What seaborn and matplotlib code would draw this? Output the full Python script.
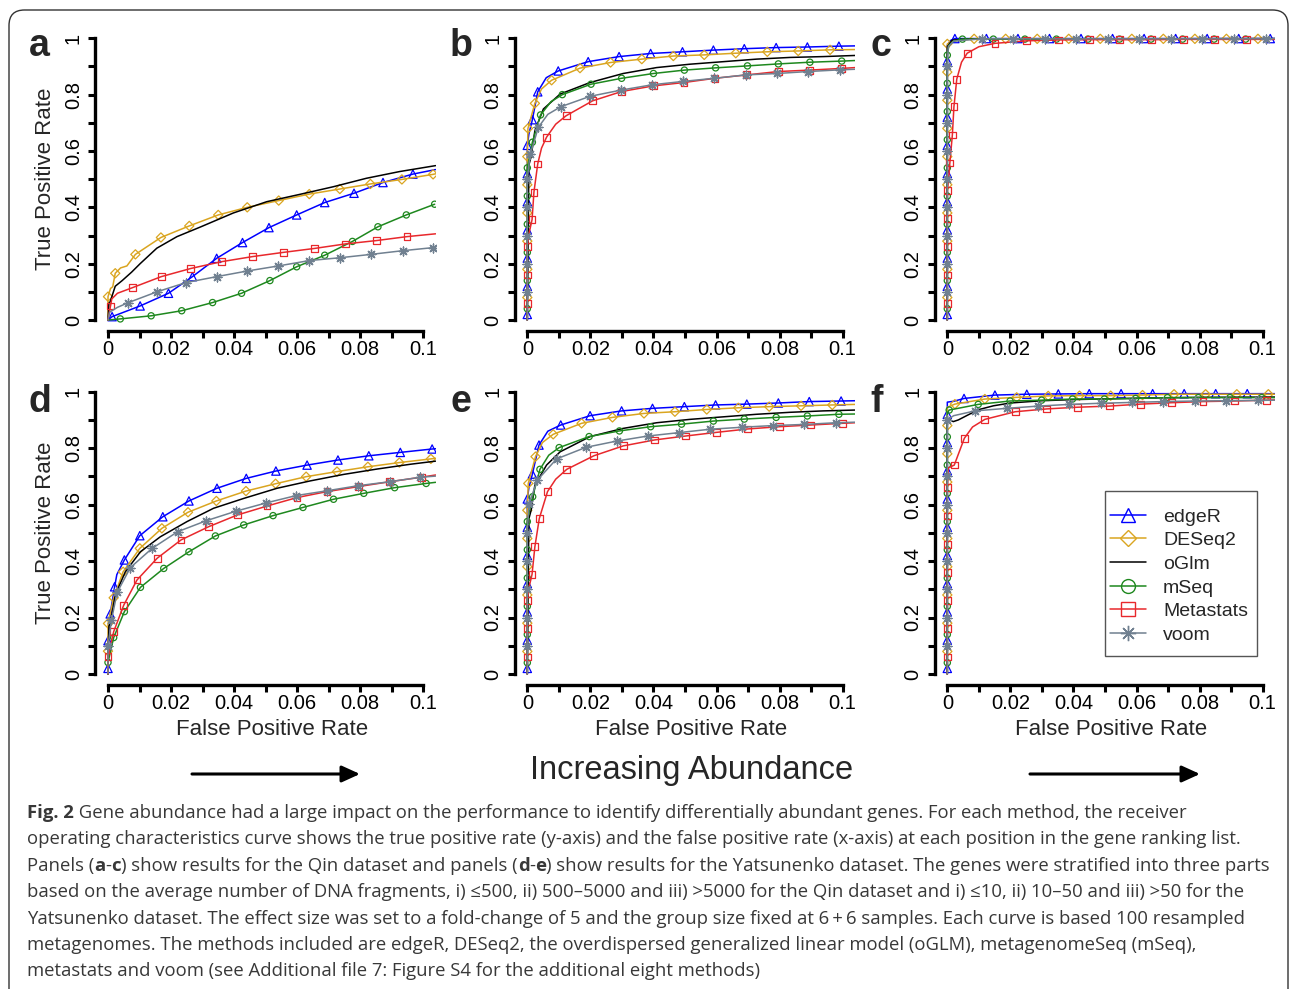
import matplotlib
matplotlib.use("Agg")
import matplotlib.pyplot as plt
import seaborn as sns
import pandas as pd
from matplotlib.lines import Line2D
from matplotlib.patches import FancyBboxPatch, FancyArrowPatch, Rectangle

# ---------------- data (FPR, TPR) ----------------
METHODS = ["edgeR", "DESeq2", "oGlm", "mSeq", "Metastats", "voom"]
XTICKS = [0, 0.02, 0.04, 0.06, 0.08, 0.1]
XTICKLABELS = ["0", "0.02", "0.04", "0.06", "0.08", "0.1"]
YTICKS = [0, 0.2, 0.4, 0.6, 0.8, 1.0]
YTICKLABELS = ["0", "0.2", "0.4", "0.6", "0.8", "1"]

# panel a
a_edger_lead = [(0, 0), (0.104, 0.534)]
a_edger_mk = [(0.0013, 0.012), (0.0102, 0.05), (0.0192, 0.095), (0.0268, 0.154), (0.0345, 0.219), (0.0427, 0.275),
              (0.0511, 0.328), (0.0599, 0.373), (0.0688, 0.417), (0.0781, 0.45), (0.0873, 0.488), (0.0968, 0.518)]
a_deseq_lead = [(0, 0), (0.0008, 0.112), (0.0015, 0.118), (0.004, 0.185), (0.006, 0.192), (0.104, 0.519)]
a_deseq_mk = [(0, 0.083), (0.0023, 0.166), (0.0087, 0.233), (0.0168, 0.293), (0.0258, 0.334), (0.035, 0.373),
              (0.0442, 0.4), (0.0542, 0.424), (0.0639, 0.447), (0.0736, 0.465), (0.0833, 0.483), (0.0933, 0.499),
              (0.1032, 0.517)]
a_oglm = [(0, 0), (0.0003, 0.06), (0.0007, 0.065), (0.0023, 0.12), (0.0045, 0.14), (0.0075, 0.17), (0.0102, 0.2),
          (0.0155, 0.255), (0.0219, 0.296), (0.0293, 0.33), (0.0398, 0.38), (0.0504, 0.42), (0.0609, 0.446),
          (0.0715, 0.473), (0.082, 0.503), (0.0926, 0.527), (0.104, 0.548)]
a_mseq_lead = [(0, 0)]
a_mseq_mk = [(0.0039, 0.004), (0.0137, 0.015), (0.0234, 0.033), (0.0332, 0.062), (0.0424, 0.095), (0.0514, 0.14),
             (0.0599, 0.189), (0.0688, 0.23), (0.0776, 0.279), (0.0857, 0.331), (0.0947, 0.373), (0.1037, 0.411)]
a_meta_lead = [(0, 0), (0.0012, 0.075), (0.003, 0.095), (0.104, 0.306)]
a_meta_mk = [(0.0008, 0.05), (0.0078, 0.115), (0.0169, 0.154), (0.0263, 0.183), (0.036, 0.207), (0.0458, 0.225),
             (0.0556, 0.24), (0.0655, 0.254), (0.0753, 0.27), (0.0852, 0.282), (0.0949, 0.296)]
a_voom_lead = [(0, 0), (0.0005, 0.028), (0.003, 0.045), (0.104, 0.258)]
a_voom_mk = [(0.0065, 0.062), (0.0155, 0.1), (0.0248, 0.133), (0.0345, 0.154), (0.0442, 0.174), (0.0541, 0.192),
             (0.0639, 0.211), (0.0736, 0.221), (0.0835, 0.233), (0.0935, 0.246), (0.1032, 0.257)]

# panel b
b_edger_lead = [(0, 0), (0.0005, 0.66), (0.006, 0.86), (0.104, 0.973)]
b_edger_mk = [(0, 0.02), (0, 0.12), (0, 0.22), (0, 0.32), (0, 0.42), (0, 0.52), (0, 0.62), (0.0016, 0.711),
              (0.0033, 0.81), (0.0098, 0.884), (0.0193, 0.917), (0.0291, 0.935), (0.0391, 0.946), (0.0492, 0.952),
              (0.059, 0.958), (0.0688, 0.963), (0.0789, 0.967), (0.0888, 0.969), (0.0988, 0.972)]
b_deseq_lead = [(0, 0), (0.0045, 0.82), (0.104, 0.96)]
b_deseq_mk = [(0, 0.08), (0, 0.18), (0, 0.28), (0, 0.38), (0, 0.48), (0, 0.58), (0.0002, 0.68), (0.0024, 0.769),
              (0.0077, 0.851), (0.0167, 0.894), (0.0264, 0.914), (0.0363, 0.926), (0.0463, 0.937), (0.0561, 0.941),
              (0.0661, 0.947), (0.0761, 0.952), (0.0859, 0.955), (0.096, 0.959)]
b_oglm = [(0, 0), (0.0005, 0.55), (0.0012, 0.58), (0.0024, 0.672), (0.0051, 0.749), (0.0104, 0.802), (0.0199, 0.843),
          (0.0304, 0.875), (0.041, 0.896), (0.0516, 0.908), (0.0622, 0.917), (0.0727, 0.926), (0.0833, 0.932),
          (0.0939, 0.935), (0.104, 0.939)]
b_mseq_lead = [(0, 0), (0.0007, 0.58), (0.0075, 0.775), (0.104, 0.921)]
b_mseq_mk = [(0, 0.04), (0, 0.14), (0, 0.24), (0, 0.34), (0, 0.44), (0, 0.54), (0.0016, 0.631), (0.0042, 0.728),
             (0.0111, 0.8), (0.0202, 0.837), (0.0299, 0.858), (0.04, 0.875), (0.0498, 0.887), (0.0597, 0.895),
             (0.0698, 0.902), (0.0796, 0.909), (0.0896, 0.915), (0.0997, 0.919)]
b_meta_lead = [(0, 0), (0.0006, 0.31), (0.0045, 0.61), (0.009, 0.695), (0.104, 0.896)]
b_meta_mk = [(0, 0.06), (0, 0.16), (0, 0.26), (0.0015, 0.356), (0.0021, 0.454), (0.0033, 0.554), (0.0061, 0.649),
             (0.0123, 0.725), (0.0207, 0.778), (0.0299, 0.811), (0.04, 0.831), (0.0497, 0.843), (0.0595, 0.858),
             (0.0696, 0.87), (0.0796, 0.882), (0.0894, 0.887), (0.0997, 0.893)]
b_voom_lead = [(0, 0), (0.0006, 0.56), (0.0065, 0.73), (0.104, 0.89)]
b_voom_mk = [(0, 0.1), (0, 0.2), (0, 0.3), (0, 0.4), (0, 0.5), (0.001, 0.59), (0.0035, 0.684), (0.0106, 0.757),
             (0.0199, 0.794), (0.0297, 0.816), (0.0396, 0.835), (0.0495, 0.847), (0.0593, 0.858), (0.0693, 0.87),
             (0.0793, 0.875), (0.0891, 0.882), (0.0992, 0.888)]

# panel c
c_edger_lead = [(0, 0), (0, 0.975), (0.001, 0.992), (0.104, 0.999)]
c_edger_mk = [(0, 0.02), (0, 0.12), (0, 0.22), (0, 0.32), (0, 0.42), (0, 0.52), (0, 0.62), (0, 0.72), (0, 0.82),
              (0, 0.92), (0.0024, 0.999), (0.0124, 0.999), (0.0224, 0.999), (0.0324, 0.999), (0.0424, 0.999),
              (0.0524, 0.999), (0.0624, 0.999), (0.0724, 0.999), (0.0824, 0.999), (0.0924, 0.999), (0.1024, 0.999)]
c_deseq_lead = [(0, 0), (0.0015, 0.99), (0.104, 0.998)]
c_deseq_mk = [(0, 0.08), (0, 0.18), (0, 0.28), (0, 0.38), (0, 0.48), (0, 0.58), (0, 0.68), (0, 0.78), (0, 0.88),
              (0, 0.98), (0.0085, 0.998), (0.0185, 0.998), (0.0285, 0.998), (0.0385, 0.998), (0.0485, 0.998),
              (0.0585, 0.998), (0.0685, 0.998), (0.0785, 0.998), (0.0885, 0.998), (0.0985, 0.998)]
c_oglm = [(0, 0), (0, 0.97), (0.0015, 0.993), (0.005, 0.997), (0.104, 0.999)]
c_mseq_lead = [(0, 0), (0.0005, 0.975), (0.002, 0.99), (0.104, 0.998)]
c_mseq_mk = [(0, 0.04), (0, 0.14), (0, 0.24), (0, 0.34), (0, 0.44), (0, 0.54), (0, 0.64), (0, 0.74), (0, 0.84),
             (0, 0.94), (0.0048, 0.997), (0.0146, 0.997), (0.0246, 0.997), (0.0346, 0.997), (0.0446, 0.997),
             (0.0546, 0.997), (0.0646, 0.997), (0.0746, 0.997), (0.0846, 0.997), (0.0946, 0.997)]
c_meta_lead = [(0, 0), (0.0004, 0.5), (0.0045, 0.915), (0.01, 0.97), (0.104, 0.996)]
c_meta_mk = [(0, 0.06), (0, 0.16), (0, 0.26), (0, 0.36), (0, 0.46), (0.0008, 0.557), (0.0016, 0.657),
             (0.0021, 0.757), (0.003, 0.855), (0.0063, 0.947), (0.0151, 0.982), (0.0252, 0.991), (0.0352, 0.994),
             (0.045, 0.995), (0.0547, 0.995), (0.0647, 0.995), (0.0748, 0.996), (0.0848, 0.996), (0.0949, 0.996)]
c_voom_lead = [(0, 0), (0.0003, 0.97), (0.002, 0.99), (0.104, 0.999)]
c_voom_mk = [(0, 0.1), (0, 0.2), (0, 0.3), (0, 0.4), (0, 0.5), (0, 0.6), (0, 0.7), (0, 0.8), (0, 0.9),
             (0.011, 0.998), (0.0207, 0.998), (0.031, 0.998), (0.0408, 0.998), (0.051, 0.998), (0.0609, 0.998),
             (0.0709, 0.998), (0.0809, 0.998), (0.0909, 0.998), (0.1009, 0.998)]

# panel d
d_edger_lead = [(0, 0), (0.0028, 0.352), (0.104, 0.798)]
d_edger_mk = [(0, 0.02), (0, 0.118), (0.0007, 0.213), (0.0021, 0.309), (0.0052, 0.404), (0.0101, 0.49),
              (0.0174, 0.557), (0.0257, 0.613), (0.0346, 0.658), (0.0439, 0.693), (0.0533, 0.719), (0.0632, 0.74),
              (0.073, 0.758), (0.0828, 0.773), (0.0928, 0.785), (0.1029, 0.797)]
d_deseq_lead = [(0, 0), (0.104, 0.764)]
d_deseq_mk = [(0, 0.081), (0, 0.179), (0.0018, 0.27), (0.0048, 0.362), (0.0101, 0.445), (0.0171, 0.516),
              (0.0254, 0.573), (0.0344, 0.613), (0.0438, 0.648), (0.0532, 0.674), (0.0629, 0.699), (0.0727, 0.717),
              (0.0825, 0.734), (0.0925, 0.749), (0.1025, 0.762)]
d_oglm = [(0, 0), (0.0003, 0.17), (0.0007, 0.179), (0.0023, 0.28), (0.0055, 0.362), (0.0103, 0.433),
          (0.0166, 0.486), (0.0251, 0.54), (0.0335, 0.587), (0.0431, 0.622), (0.0537, 0.658), (0.0642, 0.684),
          (0.0748, 0.707), (0.0854, 0.726), (0.096, 0.743), (0.104, 0.754)]
d_mseq_lead = [(0, 0), (0.104, 0.679)]
d_mseq_mk = [(0, 0.041), (0.0018, 0.129), (0.0052, 0.221), (0.0103, 0.307), (0.0177, 0.374), (0.0257, 0.433),
             (0.0341, 0.489), (0.0431, 0.528), (0.0524, 0.561), (0.0619, 0.59), (0.0716, 0.619), (0.0812, 0.64),
             (0.091, 0.66), (0.101, 0.675)]
d_meta_lead = [(0, 0), (0.104, 0.705)]
d_meta_mk = [(0, 0.061), (0.0018, 0.15), (0.005, 0.244), (0.0092, 0.333), (0.0156, 0.41), (0.0232, 0.475),
             (0.032, 0.522), (0.041, 0.563), (0.0505, 0.595), (0.06, 0.625), (0.0695, 0.646), (0.0796, 0.664),
             (0.0894, 0.681), (0.0994, 0.697)]
d_voom_lead = [(0, 0), (0.104, 0.701)]
d_voom_mk = [(0, 0.1), (0.0011, 0.191), (0.0029, 0.289), (0.0071, 0.377), (0.014, 0.445), (0.0221, 0.504),
             (0.0312, 0.543), (0.0407, 0.577), (0.0502, 0.606), (0.0597, 0.632), (0.0695, 0.649), (0.0794, 0.667),
             (0.0894, 0.681), (0.0992, 0.697)]

# panel e
e_edger_lead = [(0, 0), (0.0005, 0.66), (0.0065, 0.86), (0.104, 0.968)]
e_edger_mk = [(0, 0.02), (0, 0.12), (0, 0.22), (0, 0.32), (0, 0.42), (0, 0.52), (0, 0.62), (0.0016, 0.708),
              (0.0037, 0.811), (0.0106, 0.882), (0.0199, 0.915), (0.0299, 0.932), (0.0397, 0.941), (0.0498, 0.947),
              (0.0597, 0.953), (0.0696, 0.956), (0.0796, 0.96), (0.0894, 0.965), (0.0995, 0.967)]
e_deseq_lead = [(0, 0), (0.0048, 0.82), (0.104, 0.955)]
e_deseq_mk = [(0, 0.08), (0, 0.18), (0, 0.28), (0, 0.38), (0, 0.48), (0, 0.58), (0.0003, 0.675), (0.0026, 0.77),
              (0.0082, 0.849), (0.0172, 0.888), (0.027, 0.909), (0.037, 0.923), (0.0468, 0.929), (0.0569, 0.937),
              (0.0669, 0.943), (0.0767, 0.947), (0.0868, 0.95), (0.0967, 0.953)]
e_oglm = [(0, 0), (0.0005, 0.55), (0.0012, 0.58), (0.0024, 0.669), (0.0061, 0.74), (0.0104, 0.787), (0.0199, 0.841),
          (0.0304, 0.87), (0.041, 0.89), (0.0516, 0.902), (0.0622, 0.911), (0.0727, 0.92), (0.0833, 0.927),
          (0.0939, 0.932), (0.104, 0.935)]
e_mseq_lead = [(0, 0), (0.0007, 0.58), (0.0068, 0.775), (0.104, 0.921)]
e_mseq_mk = [(0, 0.04), (0, 0.14), (0, 0.24), (0, 0.34), (0, 0.44), (0, 0.54), (0.0017, 0.628), (0.004, 0.725),
             (0.0101, 0.802), (0.0196, 0.841), (0.0292, 0.861), (0.0391, 0.876), (0.0489, 0.885), (0.059, 0.896),
             (0.0688, 0.903), (0.0789, 0.909), (0.0888, 0.914), (0.0988, 0.92)]
e_meta_lead = [(0, 0), (0.0006, 0.31), (0.009, 0.69), (0.104, 0.89)]
e_meta_mk = [(0, 0.06), (0, 0.16), (0, 0.26), (0.0015, 0.353), (0.0024, 0.451), (0.0038, 0.551), (0.0064, 0.646),
             (0.0125, 0.725), (0.0211, 0.773), (0.0304, 0.808), (0.0403, 0.829), (0.0502, 0.843), (0.06, 0.856),
             (0.0699, 0.868), (0.0799, 0.876), (0.0899, 0.882), (0.0999, 0.888)]
e_voom_lead = [(0, 0), (0.104, 0.892)]
e_voom_mk = [(0, 0.1), (0, 0.2), (0, 0.3), (0, 0.4), (0, 0.5), (0.0005, 0.602), (0.0032, 0.687), (0.0093, 0.762),
             (0.0186, 0.803), (0.0283, 0.825), (0.0382, 0.843), (0.0481, 0.855), (0.0579, 0.867), (0.068, 0.874),
             (0.0778, 0.88), (0.0878, 0.884), (0.0978, 0.89)]

# panel f
f_edger_lead = [(0, 0), (0, 0.963), (0.002, 0.966), (0.104, 0.993)]
f_edger_mk = [(0, 0.02), (0, 0.12), (0, 0.22), (0, 0.32), (0, 0.42), (0, 0.52), (0, 0.62), (0, 0.72), (0, 0.82),
              (0, 0.92), (0.0053, 0.976), (0.0151, 0.988), (0.0252, 0.991), (0.0352, 0.992), (0.045, 0.993),
              (0.0551, 0.993), (0.0651, 0.993), (0.0751, 0.993), (0.0851, 0.993), (0.0951, 0.993)]
f_deseq_lead = [(0, 0), (0, 0.945), (0.104, 0.991)]
f_deseq_mk = [(0, 0.08), (0, 0.18), (0, 0.28), (0, 0.38), (0, 0.48), (0, 0.58), (0, 0.68), (0, 0.78), (0, 0.88),
              (0.0024, 0.956), (0.0119, 0.974), (0.022, 0.98), (0.032, 0.985), (0.0419, 0.986), (0.0518, 0.986),
              (0.0619, 0.988), (0.0719, 0.991), (0.0819, 0.991), (0.0918, 0.991), (0.1018, 0.991)]
f_oglm = [(0, 0), (0, 0.905), (0.0019, 0.894), (0.0035, 0.9), (0.0061, 0.915), (0.0098, 0.936), (0.0146, 0.95),
          (0.02, 0.96), (0.03, 0.968), (0.04, 0.972), (0.06, 0.977), (0.08, 0.98), (0.104, 0.981)]
f_mseq_lead = [(0, 0), (0, 0.925), (0.104, 0.979)]
f_mseq_mk = [(0, 0.04), (0, 0.14), (0, 0.24), (0, 0.34), (0, 0.44), (0, 0.54), (0, 0.64), (0, 0.74), (0, 0.84),
             (0.0006, 0.935), (0.0098, 0.955), (0.0199, 0.967), (0.0299, 0.97), (0.0397, 0.974), (0.0498, 0.974),
             (0.0597, 0.976), (0.0698, 0.979), (0.0796, 0.979), (0.0896, 0.979), (0.0997, 0.979)]
f_meta_lead = [(0, 0), (0.0003, 0.73), (0.008, 0.875), (0.104, 0.971)]
f_meta_mk = [(0, 0.06), (0, 0.16), (0, 0.26), (0, 0.36), (0, 0.46), (0, 0.56), (0, 0.66), (0.0022, 0.74),
             (0.0054, 0.835), (0.0119, 0.902), (0.0215, 0.929), (0.0315, 0.939), (0.0413, 0.945), (0.0513, 0.949),
             (0.0613, 0.956), (0.0711, 0.961), (0.0811, 0.965), (0.0911, 0.967), (0.1011, 0.97)]
f_voom_lead = [(0, 0), (0.002, 0.915), (0.104, 0.97)]
f_voom_mk = [(0, 0.1), (0, 0.2), (0, 0.3), (0, 0.4), (0, 0.5), (0, 0.6), (0, 0.7), (0, 0.8), (0, 0.9),
             (0.0088, 0.932), (0.0188, 0.941), (0.0289, 0.949), (0.0386, 0.955), (0.0486, 0.959), (0.0586, 0.962),
             (0.0685, 0.965), (0.0786, 0.967), (0.0885, 0.968), (0.0986, 0.969)]

CAPTION = [
    [("Fig. 2", "bold"), (" Gene abundance had a large impact on the performance to identify differentially abundant genes. For each method, the receiver", "normal")],
    [("operating characteristics curve shows the true positive rate (y-axis) and the false positive rate (x-axis) at each position in the gene ranking list.", "normal")],
    [("Panels (", "normal"), ("a", "bold"), ("-", "normal"), ("c", "bold"), (") show results for the Qin dataset and panels (", "normal"),
     ("d", "bold"), ("-", "normal"), ("e", "bold"), (") show results for the Yatsunenko dataset. The genes were stratified into three parts", "normal")],
    [("based on the average number of DNA fragments, i) \u2264500, ii) 500\u20135000 and iii) >5000 for the Qin dataset and i) \u226410, ii) 10\u201350 and iii) >50 for the", "normal")],
    [("Yatsunenko dataset. The effect size was set to a fold-change of 5 and the group size fixed at 6\u2009+\u20096 samples. Each curve is based 100 resampled", "normal")],
    [("metagenomes. The methods included are edgeR, DESeq2, the overdispersed generalized linear model (oGLM), metagenomeSeq (mSeq),", "normal")],
    [("metastats and voom (see Additional file 7: Figure S4 for the additional eight methods)", "normal")],
]

# ---------------- assemble ----------------
def P(name):
    g = globals()
    out = {}
    for m, key in zip(METHODS, ["edger", "deseq", "oglm", "mseq", "meta", "voom"]):
        if key == "oglm":
            out[m] = (g[f"{name}_oglm"], [])
        else:
            out[m] = (g[f"{name}_{key}_lead"], g[f"{name}_{key}_mk"])
    return out

PANELS = {n: P(n) for n in "abcdef"}

COLORS = {"edgeR": "#0000FF", "DESeq2": "#DAA520", "oGlm": "#000000", "mSeq": "#1E881E",
          "Metastats": "#E8282C", "voom": "#708090"}
MARKERS = {"edgeR": "^", "DESeq2": "D", "oGlm": None, "mSeq": "o", "Metastats": "s", "voom": (8, 2, 0)}
MSIZE = {"edgeR": 36, "DESeq2": 22, "mSeq": 20, "Metastats": 24, "voom": 40}

sns.set_theme(style="white")
plt.rcParams["font.family"] = ["Liberation Sans", "DejaVu Sans"]

W, H = 1290, 989
fig = plt.figure(figsize=(W / 100, H / 100), dpi=100)
fig.patch.set_facecolor("white")

cols_px = [(95.4, 435.6), (514.7, 855.3), (934.7, 1275.3)]
rows_px = [(27.0, 331.3), (380.4, 685.3)]
letters = [["a", "b", "c"], ["d", "e", "f"]]
letter_px = [[(29, 56), (450, 56), (870, 56)], [(29, 412), (450, 412), (870, 412)]]

for r, (top, bot) in enumerate(rows_px):
    for c, (lft, rgt) in enumerate(cols_px):
        name = letters[r][c]
        ax = fig.add_axes([lft / W, 1 - bot / H, (rgt - lft) / W, (bot - top) / H])
        ax.set_facecolor("white")
        for z, m in enumerate(METHODS):
            lead, mk = PANELS[name][m]
            pts = list(lead) if m == "oGlm" else sorted(list(lead) + list(mk), key=lambda p: p[0] + p[1])
            dfl = pd.DataFrame(pts, columns=["fpr", "tpr"])
            sns.lineplot(data=dfl, x="fpr", y="tpr", sort=False, estimator=None, color=COLORS[m],
                         linewidth=1.1, ax=ax, zorder=3 + z)
            if mk:
                dfm = pd.DataFrame(mk, columns=["fpr", "tpr"])
                if m == "voom":
                    sns.scatterplot(data=dfm, x="fpr", y="tpr", marker=MARKERS[m], s=MSIZE[m],
                                    color=COLORS[m], linewidth=1.0, ax=ax, zorder=3 + z)
                else:
                    sns.scatterplot(data=dfm, x="fpr", y="tpr", marker=MARKERS[m], s=MSIZE[m],
                                    color=COLORS[m], facecolor="none", edgecolor=COLORS[m],
                                    linewidth=0.9, ax=ax, zorder=3 + z)
        ax.set_xlim(-0.004, 0.104)
        ax.set_ylim(-0.04, 1.04)
        ax.spines["top"].set_visible(False)
        ax.spines["right"].set_visible(False)
        ax.spines["left"].set_bounds(0, 1)
        ax.spines["bottom"].set_bounds(0, 0.1)
        for s in ("left", "bottom"):
            ax.spines[s].set_linewidth(2.4)
            ax.spines[s].set_color("black")
            ax.spines[s].set_capstyle("projecting")
        ax.set_xticks(XTICKS)
        ax.set_xticklabels(XTICKLABELS)
        ax.set_xticks([0.01, 0.03, 0.05, 0.07, 0.09], minor=True)
        ax.set_yticks(YTICKS)
        ax.set_yticklabels(YTICKLABELS)
        ax.set_yticks([0.1, 0.3, 0.5, 0.7, 0.9], minor=True)
        ax.tick_params(which="both", direction="out", length=5, width=2.2, color="black",
                       left=True, bottom=True, labelsize=14.5, labelcolor="black")
        ax.tick_params(axis="x", which="both", pad=1)
        ax.tick_params(axis="y", which="both", pad=4)
        for lab in ax.get_yticklabels():
            lab.set_rotation(90)
            lab.set_va("center")
            lab.set_ha("right")
        ax.set_xlabel("False Positive Rate" if r == 1 else "", fontsize=16, labelpad=5)
        ax.set_ylabel("True Positive Rate" if c == 0 else "", fontsize=16, labelpad=6)
        if r == 1:
            ax.xaxis.set_label_coords(0.518, -0.112)
        ax.grid(False)
        lx, ly = letter_px[r][c]
        fig.text(lx / W, 1 - ly / H, name, fontsize=27, fontweight="bold", ha="left", va="baseline")

# legend (panel f): frame drawn separately
fig.add_artist(Rectangle((1105 / W, 1 - 656 / H), (1257 - 1105) / W, (656 - 491) / H,
                         transform=fig.transFigure, fill=True, facecolor="white",
                         edgecolor="#555555", lw=1.0, zorder=5))
handles = []
for m in METHODS:
    if MARKERS[m] is None:
        handles.append(Line2D([], [], color=COLORS[m], lw=1.1))
    else:
        handles.append(Line2D([], [], color=COLORS[m], lw=1.1, marker=MARKERS[m],
                              markersize=11 if m == "voom" else (8 if m == "DESeq2" else 10),
                              markerfacecolor="none", markeredgecolor=COLORS[m], markeredgewidth=1.0))
leg = fig.legend(handles, METHODS, loc="upper left", bbox_to_anchor=(1110 / W, 1 - 508 / H),
                 frameon=False, fontsize=14, handlelength=1.86, handletextpad=0.87,
                 labelspacing=0.31, borderpad=0, borderaxespad=0)
leg.set_zorder(6)

# Increasing abundance arrows and text
fig.text(692 / W, 1 - 771 / H, "Increasing Abundance", fontsize=23.5, ha="center", va="center")
for x0, x1 in [(192, 360), (1030, 1200)]:
    fig.add_artist(FancyArrowPatch((x0 / W, 1 - 774 / H), (x1 / W, 1 - 774 / H), transform=fig.transFigure,
                                   arrowstyle="-|>,head_length=0.55,head_width=0.25", mutation_scale=20,
                                   lw=2.2, color="black", shrinkA=0, shrinkB=0))

# caption
renderer = fig.canvas.get_renderer()
cap_family = ["Open Sans", "DejaVu Sans"]
for i, line in enumerate(CAPTION):
    y = 1 - (813 + i * 26.4) / H
    x = 27 / W
    for txt, wt in line:
        t = fig.text(x, y, txt, fontsize=13.3, family=cap_family, fontweight=wt, color="#383838",
                     ha="left", va="center")
        bb = t.get_window_extent(renderer)
        x = bb.x1 / W

# rounded border
border = FancyBboxPatch((9 / W, -0.05), (1288 - 9) / W, 1 - 10 / H + 0.05, transform=fig.transFigure,
                        boxstyle="round,pad=0,rounding_size=0.012", mutation_aspect=W / H,
                        fill=False, edgecolor="#333333", lw=1.0)
fig.add_artist(border)

fig.savefig("out.png", dpi=100)
